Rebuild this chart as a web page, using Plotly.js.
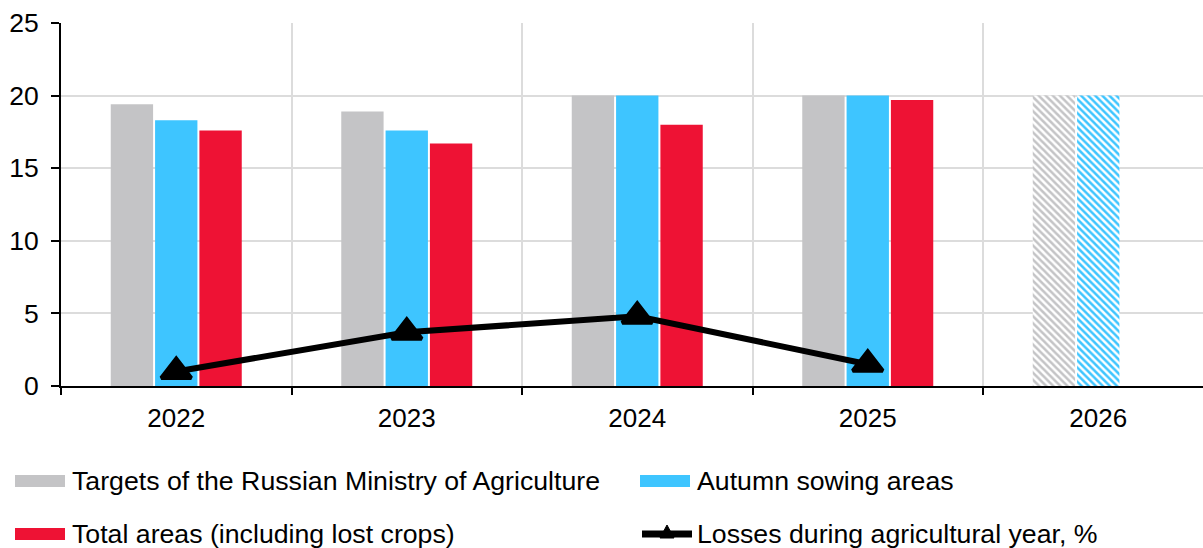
<!DOCTYPE html>
<html>
<head>
<meta charset="utf-8">
<script src="https://cdn.plot.ly/plotly-3.0.1.min.js"></script>
<style>
  html, body { margin: 0; padding: 0; background: #fff; }
  #chart { width: 1203px; height: 548px; }
</style>
</head>
<body>
<div id="chart"></div>
<script>
// Winter grain sowing areas, million ha, and losses over the agricultural year, %
const years = ['2022', '2023', '2024', '2025', '2026'];
const targets = [19.4, 18.9, 20.0, 20.0, 20.0];
const autumnSowing = [18.3, 17.6, 20.0, 20.0, 20.0];
const totalAreas = [17.6, 16.7, 18.0, 19.7, null];
const lossYears = ['2022', '2023', '2024', '2025'];
const lossesPct = [1.0, 3.7, 4.8, 1.5];
// the last year is a plan, drawn hatched
const planned = [false, false, false, false, true];

const yTicks = [0, 5, 10, 15, 20, 25];

const seriesNames = [
  'Targets of the Russian Ministry of Agriculture',
  'Autumn sowing areas',
  'Total areas (including lost crops)',
  'Losses during agricultural year, %'
];
const colors = {
  grey: '#C4C4C6',
  blue: '#3EC5FF',
  red: '#EE1234',
  line: '#000000'
};

const W = 1203, H = 548;
const M = { l: 61, r: 0, t: 23, b: 162 };
const plotW = W - M.l - M.r, plotH = H - M.t - M.b;
// page pixel -> paper fraction (for the hand-built legend)
const px = x => (x - M.l) / plotW;
const py = y => (H - M.b - y) / plotH;

const FONT = 'Liberation Sans, Arial, Helvetica, sans-serif';

function barTrace(name, values, color) {
  return {
    type: 'bar',
    name: name,
    x: years,
    y: values,
    marker: {
      color: color,
      line: { width: 0 },
      pattern: {
        shape: planned.map(p => p ? '\\' : ''),
        fgcolor: color,
        bgcolor: '#ffffff',
        size: 5,
        solidity: 0.5,
        fillmode: 'replace'
      }
    },
    hoverinfo: 'x+y+name',
    showlegend: false
  };
}

const traces = [
  barTrace(seriesNames[0], targets, colors.grey),
  barTrace(seriesNames[1], autumnSowing, colors.blue),
  barTrace(seriesNames[2], totalAreas, colors.red),
  {
    type: 'scatter',
    mode: 'lines+markers',
    name: seriesNames[3],
    x: lossYears,
    y: lossesPct,
    line: { color: colors.line, width: 6 },
    marker: { symbol: 'triangle-up', size: 26, color: colors.line,
              line: { color: colors.line, width: 4 } },
    cliponaxis: false,
    showlegend: false
  }
];

// legend: two rows, two columns, wide swatches
const legendRows = [481, 534];
const legendCols = [15, 640];
const swatchW = 50, swatchH = 12, textGap = 6;
const legendItems = [
  { name: seriesNames[0], kind: 'bar', color: colors.grey, col: 0, row: 0 },
  { name: seriesNames[1], kind: 'bar', color: colors.blue, col: 1, row: 0 },
  { name: seriesNames[2], kind: 'bar', color: colors.red, col: 0, row: 1 },
  { name: seriesNames[3], kind: 'line', color: colors.line, col: 1, row: 1 }
];

const shapes = [];
const annotations = [];
legendItems.forEach(it => {
  const x0 = legendCols[it.col];
  const yc = legendRows[it.row];
  if (it.kind === 'bar') {
    shapes.push({
      type: 'rect', xref: 'paper', yref: 'paper',
      x0: px(x0), x1: px(x0 + swatchW),
      y0: py(yc - swatchH / 2), y1: py(yc + swatchH / 2),
      fillcolor: it.color, line: { width: 0 }
    });
  } else {
    shapes.push({
      type: 'line', xref: 'paper', yref: 'paper',
      x0: px(x0 + 2), x1: px(x0 + swatchW + 2),
      y0: py(yc), y1: py(yc),
      line: { color: it.color, width: 7 }
    });
    shapes.push({
      type: 'path', xref: 'paper', yref: 'paper',
      xsizemode: 'pixel', ysizemode: 'pixel',
      xanchor: px(x0 + 27), yanchor: py(yc),
      path: 'M-7,-4 L7,-4 L0,9 Z',
      fillcolor: it.color, line: { color: it.color, width: 1 }
    });
  }
  annotations.push({
    xref: 'paper', yref: 'paper',
    x: px(x0 + swatchW + textGap), y: py(yc),
    xanchor: 'left', yanchor: 'middle',
    text: it.name, showarrow: false,
    borderpad: 0,
    font: { family: FONT, size: 26.7, color: '#000' }
  });
});

const layout = {
  width: W,
  height: H,
  margin: M,
  paper_bgcolor: '#ffffff',
  plot_bgcolor: '#ffffff',
  font: { family: FONT, size: 26, color: '#000' },
  barmode: 'group',
  bargap: 0.423,
  bargroupgap: 0.045,
  showlegend: false,
  xaxis: {
    type: 'category',
    range: [-0.5, -0.5 + plotW / 230.5],
    tickson: 'boundaries',
    ticks: 'outside',
    ticklen: 7,
    tickwidth: 2,
    tickcolor: '#000',
    showline: true,
    linecolor: '#000',
    linewidth: 2,
    showgrid: true,
    gridcolor: '#DCDCDC',
    gridwidth: 2,
    ticklabelstandoff: 8,
    tickfont: { family: FONT, size: 26, color: '#000' },
    fixedrange: true
  },
  yaxis: {
    range: [0, 25],
    tickvals: yTicks,
    ticktext: yTicks.map(String),
    ticks: 'outside',
    ticklen: 8,
    tickwidth: 2,
    tickcolor: '#000',
    showline: true,
    linecolor: '#000',
    linewidth: 2,
    showgrid: true,
    gridcolor: '#DCDCDC',
    gridwidth: 2,
    zeroline: false,
    ticklabelstandoff: 7,
    tickfont: { family: FONT, size: 26.5, color: '#000' },
    fixedrange: true
  },
  shapes: shapes,
  annotations: annotations
};

Plotly.newPlot('chart', traces, layout, { displayModeBar: false, staticPlot: true });
</script>
</body>
</html>
